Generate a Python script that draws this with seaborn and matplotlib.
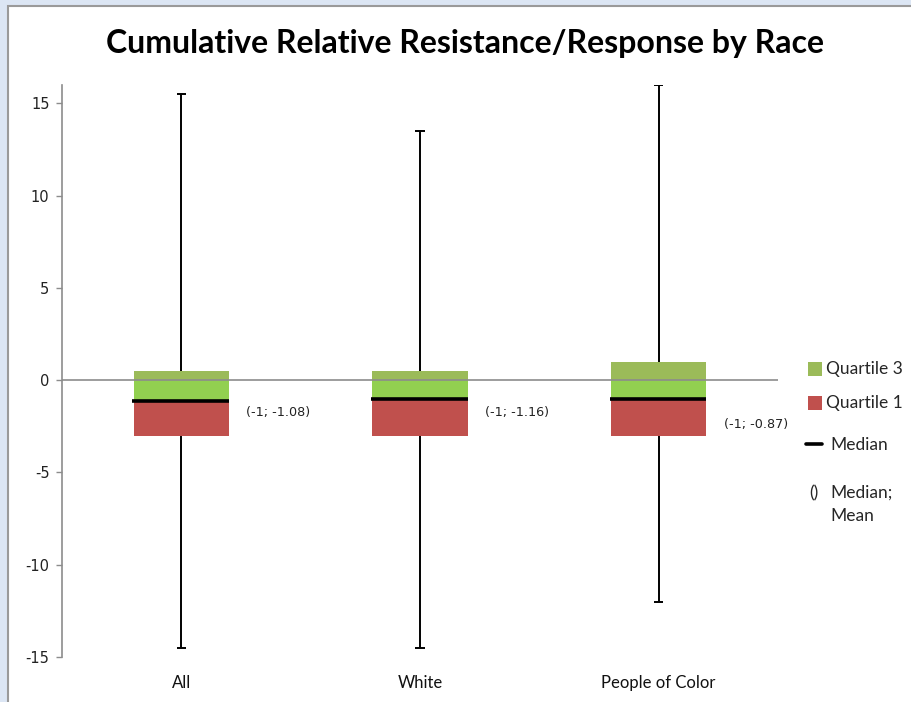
import matplotlib
matplotlib.use("Agg")
import matplotlib.pyplot as plt
import seaborn as sns
import pandas as pd
from matplotlib.patches import Rectangle
from matplotlib.lines import Line2D

# ---- data ----
categories = ["All", "White", "People of Color"]
whisker_min = [-14.5, -14.5, -12.0]
quartile1 = [-3.0, -3.0, -3.0]
median_line = [-1.1, -1.0, -1.0]
quartile3 = [0.5, 0.5, 1.0]
whisker_max = [15.5, 13.5, 16.0]
label_median = [-1, -1, -1]
label_mean = [-1.08, -1.16, -0.87]

sns.set_theme(style="white")
plt.rcParams["font.family"] = ["DejaVu Sans"]

OLIVE = "#9BBB59"
BRIGHT = "#92D050"
RED = "#C0504D"

fig = plt.figure(figsize=(9.11, 7.02), dpi=100)
fig.patch.set_facecolor("#dce6f4")
bg = Rectangle((8 / 911, -0.02), 1.0, 1 - 6 / 702 + 0.02,
               transform=fig.transFigure, facecolor="white",
               edgecolor="#9a9a9a", linewidth=1.5, zorder=-10)
fig.patches.append(bg)

ax = fig.add_axes([62 / 911, 1 - 657 / 702, (778 - 62) / 911, (657 - 85) / 702])
ax.set_zorder(1)
ax.set_facecolor("none")

df = pd.DataFrame({
    "cat": categories,
    "q1": quartile1,
    "med": median_line,
    "q3": quartile3,
})
df["red_h"] = df["med"] - df["q1"]
df["bright_h"] = -df["med"]

# whiskers (behind boxes)
xs = list(range(len(categories)))
ax.vlines(xs, whisker_min, whisker_max, color="black", lw=1.4, zorder=1)
ax.hlines(whisker_min, [x - 0.02 for x in xs], [x + 0.02 for x in xs], color="black", lw=1.4, zorder=1)
ax.hlines(whisker_max, [x - 0.02 for x in xs], [x + 0.02 for x in xs], color="black", lw=1.4, zorder=1)

sns.barplot(data=df, x="cat", y="red_h", bottom=df["q1"].values, color=RED,
            width=0.4, errorbar=None, saturation=1, ax=ax, zorder=2, linewidth=0)
sns.barplot(data=df, x="cat", y="bright_h", bottom=df["med"].values, color=BRIGHT,
            width=0.4, errorbar=None, saturation=1, ax=ax, zorder=2, linewidth=0)
sns.barplot(data=df, x="cat", y="q3", color=OLIVE,
            width=0.4, errorbar=None, saturation=1, ax=ax, zorder=2, linewidth=0)

# zero line
ax.axhline(0, color="#8c8c8c", lw=1.2, zorder=3)

# median lines
ax.hlines(median_line, [x - 0.205 for x in xs], [x + 0.2 for x in xs], color="black", lw=2.6, zorder=4)

# data labels
label_y = [-1.73, -1.73, -2.38]
for x, m, mu, ly in zip(xs, label_median, label_mean, label_y):
    ax.text(x + 0.273, ly, f"({m:g}; {mu:.2f})", fontsize=9.2, va="center", ha="left",
            color="#222222")

ax.set_xlim(-0.5, 2.5)
ax.set_ylim(-15, 16)
ax.set_yticks([-15, -10, -5, 0, 5, 10, 15])
ax.set_yticklabels(["-15", "-10", "-5", "0", "5", "10", "15"], fontsize=10.5, color="#222222")
ax.set_xticks(xs)
ax.set_xticklabels(categories, fontsize=12, fontfamily="Lato", color="#111111")
ax.tick_params(axis="x", length=0, pad=13)
ax.tick_params(axis="y", length=4, width=1, color="#8c8c8c", direction="out", left=True, pad=5)
ax.set_xlabel("")
ax.set_ylabel("")
for s in ["top", "right", "bottom"]:
    ax.spines[s].set_visible(False)
ax.spines["left"].set_color("#8c8c8c")
ax.spines["left"].set_linewidth(1.2)

# title
fig.text(465 / 911, 1 - 44 / 702, "Cumulative Relative Resistance/Response by Race",
         ha="center", va="center", fontsize=23, fontweight="bold", fontfamily="Lato",
         color="black")

# legend (manual)
def fx(px):
    return px / 911

def fy(py):
    return 1 - py / 702

fig.patches.append(Rectangle((fx(808), fy(376)), 14 / 911, 14 / 702, transform=fig.transFigure,
                             facecolor=OLIVE, edgecolor="none"))
fig.text(fx(826), fy(369), "Quartile 3", fontsize=12.5, fontfamily="Lato", va="center")
fig.patches.append(Rectangle((fx(808), fy(410)), 14 / 911, 14 / 702, transform=fig.transFigure,
                             facecolor=RED, edgecolor="none"))
fig.text(fx(826), fy(403), "Quartile 1", fontsize=12.5, fontfamily="Lato", va="center")
fig.lines.append(Line2D([fx(806), fx(822)], [fy(444), fy(444)], transform=fig.transFigure,
                        color="black", lw=2.6))
fig.text(fx(830), fy(445), "Median", fontsize=12.5, fontfamily="Lato", va="center")
fig.text(fx(809), fy(493), "()", fontsize=12.5, fontfamily="Lato", va="center")
fig.text(fx(830), fy(493), "Median;", fontsize=12.5, fontfamily="Lato", va="center")
fig.text(fx(830), fy(516), "Mean", fontsize=12.5, fontfamily="Lato", va="center")

fig.savefig("out.png", dpi=100, facecolor=fig.get_facecolor())
